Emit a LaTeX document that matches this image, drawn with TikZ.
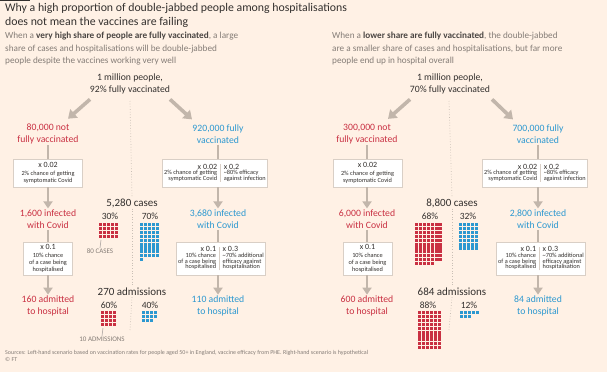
\documentclass[tikz,border=0pt]{standalone}
\usepackage{fontspec}
\setmainfont{Carlito}
\usepackage{array}
\usetikzlibrary{arrows.meta,positioning,calc}
\definecolor{ftbg}{HTML}{FFF1E5}
\definecolor{ftink}{HTML}{33302E}
\definecolor{ftgrey}{HTML}{857D77}
\definecolor{ftdark}{HTML}{4A4542}
\definecolor{ftred}{HTML}{C93042}
\definecolor{ftblue}{HTML}{2C98D0}
\definecolor{arrgrey}{HTML}{C2B6AB}
\definecolor{boxln}{HTML}{D9CFC6}
\definecolor{divgrey}{HTML}{C9BFB5}
\newcolumntype{D}{@{\hspace{3pt}{\color{boxln}\vrule width 0.6pt}\hspace{3pt}}}
\tikzset{
  bigarr/.style={-{Triangle[length=8pt,width=11pt]}, line width=3.6pt, arrgrey},
  flowln/.style={line width=2.4pt, arrgrey},
  flowarr/.style={flowln, -{Triangle[length=7pt,width=9pt]}},
  grplbl/.style={align=center, font=\fontsize{9.7}{12}\selectfont, inner sep=1pt},
  calcbox/.style={draw=boxln, line width=0.8pt, fill=white, align=center, inner sep=2pt,
    text=ftink, font=\fontsize{6.3}{7}\selectfont\renewcommand{\arraystretch}{0.62}},
  pctlbl/.style={font=\fontsize{9.5}{10}\selectfont, text=ftink, inner sep=0pt},
  sumlbl/.style={font=\fontsize{11}{12}\selectfont, text=ftink, inner sep=1pt},
  unitlbl/.style={font=\fontsize{7}{8}\selectfont, text=ftgrey, inner sep=0.5pt},
  tickln/.style={line width=0.6pt, ftgrey!70},
  divln/.style={dotted, line width=0.7pt, divgrey},
}
% one square = 80 cases or 10 admissions
\newcommand{\sqgrid}[5]{%
  \foreach \k in {1,...,#5}{%
    \pgfmathtruncatemacro{\gc}{mod(\k-1,#4)}%
    \pgfmathtruncatemacro{\gr}{floor((\k-1)/#4)}%
    \fill[#1] ({#2+\gc*3.9},{#3+\gr*3.9}) rectangle ++(3.1,3.1);
  }%
}
\newcommand{\mult}[1]{{\fontsize{8}{9}\selectfont #1}}

\begin{document}
\begin{tikzpicture}[x=1pt,y=-1pt]
  \fill[ftbg] (0,0) rectangle (607,372);
  \useasboundingbox (0,0) rectangle (607,372);
  \fill[ftink] (0,0) rectangle (30,1.2);

  % heading
  \node[anchor=north west, align=left, text=ftink, inner sep=0pt,
    font=\fontsize{11.8}{14}\selectfont] (title) at (5,3)
    {Why a high proportion of double-jabbed people among hospitalisations\\
     does not mean the vaccines are failing};
  \node[anchor=north west, align=left, text=ftgrey, inner sep=0pt,
    font=\fontsize{9.2}{12.5}\selectfont] (subl) at (5,32)
    {When a \textcolor{ftdark}{\textbf{very high share of people are fully vaccinated}}, a large\\
     share of cases and hospitalisations will be double-jabbed\\
     people despite the vaccines working very well};
  \node[anchor=north west, align=left, text=ftgrey, inner sep=0pt,
    font=\fontsize{9.2}{12.5}\selectfont] (subr) at (332,32)
    {When a \textcolor{ftdark}{\textbf{lower share are fully vaccinated}}, the double-jabbed\\
     are a smaller share of cases and hospitalisations, but far more\\
     people end up in hospital overall};

  %%% left scenario: 92% vaccinated
  \node[grplbl, text=ftink] (pop1) at (130,84) {1 million people,\\92\% fully vaccinated};
  \node[grplbl, text=ftred] (nv1) at (48,134) {80,000 not\\fully vaccinated};
  \node[grplbl, text=ftblue] (fv1) at (218,134) {920,000 fully\\vaccinated};
  \draw[bigarr] ($(pop1.south)+(-40,4)$) -- ($(nv1.north)+(20,-4)$);
  \draw[bigarr] ($(pop1.south)+(40,4)$) -- ($(fv1.north)+(-26,-4)$);

  \node[calcbox, minimum width=69pt, minimum height=28pt] (bn1) at (48,173)
    {\mult{x 0.02}\\[1pt]2\% chance of getting\\symptomatic Covid};
  \node[calcbox, minimum height=28pt] (bv1) at (215,173)
    {\begin{tabular}{@{}rDl@{}}
      \mult{x 0.02} & \mult{x 0.2}\\
      2\% chance of getting & \textasciitilde80\% efficacy\\
      symptomatic Covid & against infection
     \end{tabular}};
  \node[grplbl, text=ftred] (in1) at (48,219) {1,600 infected\\with Covid};
  \node[grplbl, text=ftblue] (iv1) at (218,219) {3,680 infected\\with Covid};
  \draw[flowln] (nv1.south) -- (bn1.north);
  \draw[flowarr] (bn1.south) -- (in1.north);
  \draw[flowln] (fv1.south) -- (fv1.south |- bv1.north);
  \draw[flowarr] (fv1 |- bv1.south) -- (iv1.north);

  \node[calcbox, minimum width=49pt, minimum height=33pt] (hn1) at (48,258.5)
    {\mult{x 0.1}\\[1pt]10\% chance\\of a case being\\hospitalised};
  \node[calcbox, minimum height=33pt] (hv1) at (221,258.5)
    {\begin{tabular}{@{}rDl@{}}
      \mult{x 0.1} & \mult{x 0.3}\\
      10\% chance & \textasciitilde70\% additional\\
      of a case being & efficacy against\\
      hospitalised & hospitalisation
     \end{tabular}};
  \node[grplbl, text=ftred] (an1) at (48,306) {160 admitted\\to hospital};
  \node[grplbl, text=ftblue] (av1) at (218,306) {110 admitted\\to hospital};
  \draw[flowln] (in1.south) -- (hn1.north);
  \draw[flowarr] (hn1.south) -- (an1.north);
  \draw[flowln] (iv1.south) -- (iv1.south |- hv1.north);
  \draw[flowarr] (iv1 |- hv1.south) -- (av1.north);

  % cases and admissions
  \node[sumlbl] (cs1) at (132,203) {5,280 cases};
  \node[pctlbl] (cp1a) at (110,216) {30\%};
  \node[pctlbl] (cp1b) at (150,216) {70\%};
  \sqgrid{ftred}{99}{223}{5}{20}
  \sqgrid{ftblue}{140}{223}{5}{46}
  \coordinate (tk1) at (101,240);
  \node[unitlbl] (un1) at (100,251) {80 CASES};
  \draw[tickln] (tk1) -- (un1.north);

  \node[sumlbl] (ad1) at (132,292) {270 admissions};
  \node[pctlbl] (ap1a) at (109,305) {60\%};
  \node[pctlbl] (ap1b) at (150,305) {40\%};
  \sqgrid{ftred}{101}{311}{4}{16}
  \sqgrid{ftblue}{142}{311}{4}{11}
  \coordinate (tk2) at (103,328);
  \node[unitlbl] (un2) at (102,339) {10 ADMISSIONS};
  \draw[tickln] (tk2) -- (un2.north);

  \coordinate (dv1a) at (130,101);
  \coordinate (dv1b) at (130,330);
  \draw[divln] (dv1a) -- (cs1.north);
  \draw[divln] (cs1.south) -- (ad1.north);
  \draw[divln] (ad1.south) -- (dv1b);

  %%% right scenario: 70% vaccinated
  \node[grplbl, text=ftink] (pop2) at (450,84) {1 million people,\\70\% fully vaccinated};
  \node[grplbl, text=ftred] (nv2) at (367,134) {300,000 not\\fully vaccinated};
  \node[grplbl, text=ftblue] (fv2) at (538,134) {700,000 fully\\vaccinated};
  \draw[bigarr] ($(pop2.south)+(-40,4)$) -- ($(nv2.north)+(21,-4)$);
  \draw[bigarr] ($(pop2.south)+(42,4)$) -- ($(fv2.north)+(-25,-4)$);

  \node[calcbox, minimum width=69pt, minimum height=28pt] (bn2) at (367.5,173)
    {\mult{x 0.02}\\[1pt]2\% chance of getting\\symptomatic Covid};
  \node[calcbox, minimum height=28pt] (bv2) at (535,173)
    {\begin{tabular}{@{}rDl@{}}
      \mult{x 0.02} & \mult{x 0.2}\\
      2\% chance of getting & \textasciitilde80\% efficacy\\
      symptomatic Covid & against infection
     \end{tabular}};
  \node[grplbl, text=ftred] (in2) at (367,219) {6,000 infected\\with Covid};
  \node[grplbl, text=ftblue] (iv2) at (538,219) {2,800 infected\\with Covid};
  \draw[flowln] (nv2.south) -- (nv2.south |- bn2.north);
  \draw[flowarr] (nv2 |- bn2.south) -- (in2.north);
  \draw[flowln] (fv2.south) -- (fv2.south |- bv2.north);
  \draw[flowarr] (fv2 |- bv2.south) -- (iv2.north);

  \node[calcbox, minimum width=49pt, minimum height=33pt] (hn2) at (367.5,258.5)
    {\mult{x 0.1}\\[1pt]10\% chance\\of a case being\\hospitalised};
  \node[calcbox, minimum height=33pt] (hv2) at (541,258.5)
    {\begin{tabular}{@{}rDl@{}}
      \mult{x 0.1} & \mult{x 0.3}\\
      10\% chance & \textasciitilde70\% additional\\
      of a case being & efficacy against\\
      hospitalised & hospitalisation
     \end{tabular}};
  \node[grplbl, text=ftred] (an2) at (367,306) {600 admitted\\to hospital};
  \node[grplbl, text=ftblue] (av2) at (538,306) {84 admitted\\to hospital};
  \draw[flowln] (in2.south) -- (in2.south |- hn2.north);
  \draw[flowarr] (in2 |- hn2.south) -- (an2.north);
  \draw[flowln] (iv2.south) -- (iv2.south |- hv2.north);
  \draw[flowarr] (iv2 |- hv2.south) -- (av2.north);

  % cases and admissions
  \node[sumlbl] (cs2) at (452,203) {8,800 cases};
  \node[pctlbl] (cp2a) at (430,216) {68\%};
  \node[pctlbl] (cp2b) at (468,216) {32\%};
  \sqgrid{ftred}{415}{223}{7}{75}
  \sqgrid{ftblue}{459}{223}{5}{35}

  \node[sumlbl] (ad2) at (452,292) {684 admissions};
  \node[pctlbl] (ap2a) at (428,305) {88\%};
  \node[pctlbl] (ap2b) at (469,305) {12\%};
  \sqgrid{ftred}{418}{311}{6}{60}
  \sqgrid{ftblue}{460}{311}{5}{8}

  \coordinate (dv2a) at (449,101);
  \coordinate (dv2b) at (449,330);
  \draw[divln] (dv2a) -- (cs2.north);
  \draw[divln] (cs2.south) -- (ad2.north);
  \draw[divln] (ad2.south) -- (dv2b);

  % footnote
  \node[anchor=north west, align=left, text=ftgrey, inner sep=0pt,
    font=\fontsize{6}{7.5}\selectfont] (src) at (5,350)
    {Sources: Left-hand scenario based on vaccination rates for people aged 50+ in England, vaccine efficacy from PHE. Right-hand scenario is hypothetical\\
     \textcopyright{} FT};
\end{tikzpicture}
\end{document}
